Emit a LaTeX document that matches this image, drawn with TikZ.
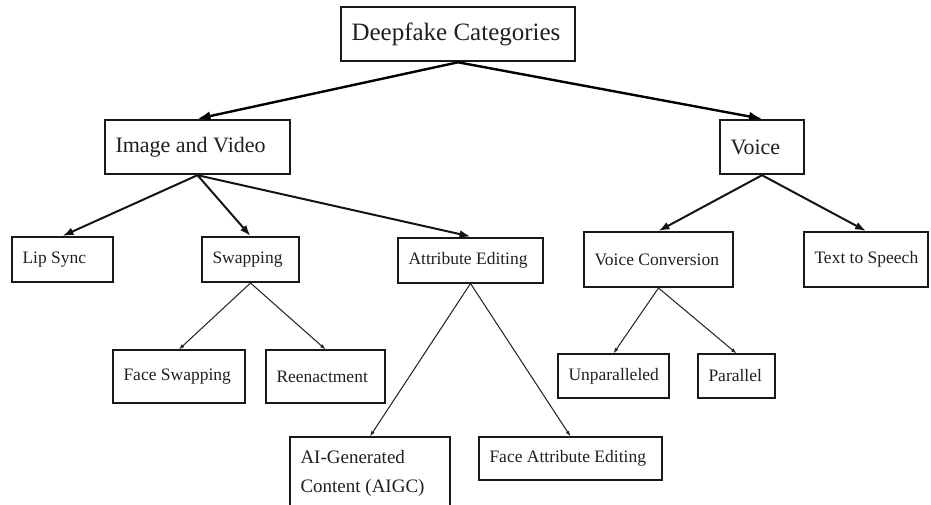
\documentclass[tikz,border=0pt]{standalone}
\usepackage{fontspec}
\setmainfont{Liberation Serif}
\usetikzlibrary{arrows.meta}
\begin{document}
\begin{tikzpicture}[x=1pt,y=-1pt,
  base/.style={draw=black!90, rectangle, inner xsep=10.5pt, inner ysep=0pt, align=left, text=black!88},
  lvlzero/.style={base, line width=2.6pt, font=\fontsize{25}{30}\selectfont},
  lvlone/.style={base, line width=2.4pt, font=\fontsize{22}{26}\selectfont},
  lvltwo/.style={base, line width=2pt, font=\fontsize{17.5}{21}\selectfont},
  lvlthree/.style={base, line width=1.2pt, font=\fontsize{17.5}{21}\selectfont},
  arrzero/.style={line width=2.4pt, black, -{Latex[length=13pt,width=9.5pt]}},
  arrone/.style={line width=2pt, black!92, -{Latex[length=11pt,width=8pt]}},
  arrtwo/.style={line width=1.05pt, black!85, -{Latex[length=5.5pt,width=4pt]}}
]
\useasboundingbox (0,0) rectangle (931,505);

\node[lvlzero, minimum height=54] (root) at (458,34) {\makebox[213pt][l]{Deepfake Categories}};
\node[lvlone, minimum height=54] (iv) at (197.5,147) {\makebox[164pt][l]{Image and Video}};
\node[lvlone, minimum height=54] (voice) at (762,147) {\makebox[63pt][l]{Voice}};

\node[lvltwo, minimum height=45] (lip) at (62.5,259.5) {\makebox[80pt][l]{Lip Sync}};
\node[lvltwo, minimum height=45] (swap) at (250.5,259.5) {\makebox[76pt][l]{Swapping}};
\node[lvltwo, minimum height=45] (attr) at (470.5,260) {\makebox[124pt][l]{Attribute Editing}};
\node[lvltwo, minimum height=55] (vc) at (658.5,259.5) {\makebox[128pt][l]{Voice Conversion}};
\node[lvltwo, minimum height=55] (tts) at (866,259.5) {\makebox[103pt][l]{Text to Speech}};

\node[lvlthree, minimum height=53] (fs) at (179,376.5) {\makebox[111pt][l]{Face Swapping}};
\node[lvlthree, minimum height=53] (re) at (325.5,376.5) {\makebox[98pt][l]{Reenactment}};
\node[lvlthree, minimum height=72, font=\fontsize{19}{29}\selectfont] (aigc) at (370,473) {\makebox[139pt][l]{AI-Generated}\\\makebox[139pt][l]{Content (AIGC)}};
\node[lvlthree, minimum height=43] (fae) at (570.5,458.5) {\makebox[162pt][l]{Face Attribute Editing}};
\node[lvlthree, minimum height=44] (unp) at (613.5,376) {\makebox[90pt][l]{Unparalleled}};
\node[lvlthree, minimum height=44] (par) at (736.5,376) {\makebox[56pt][l]{Parallel}};

\draw[arrzero] (root.south) -- (iv.north);
\draw[arrzero] (root.south) -- (voice.north);

\draw[arrone] (iv.south) -- (lip.north);
\draw[arrone] (iv.south) -- (swap.north);
\draw[arrone] (iv.south) -- (attr.north);
\draw[arrone] (voice.south) -- (vc.north);
\draw[arrone] (voice.south) -- (tts.north);

\draw[arrtwo] (swap.south) -- (fs.north);
\draw[arrtwo] (swap.south) -- (re.north);
\draw[arrtwo] (attr.south) -- (aigc.north);
\draw[arrtwo] (attr.south) -- (fae.north);
\draw[arrtwo] (vc.south) -- (unp.north);
\draw[arrtwo] (vc.south) -- (par.north);
\end{tikzpicture}
\end{document}
